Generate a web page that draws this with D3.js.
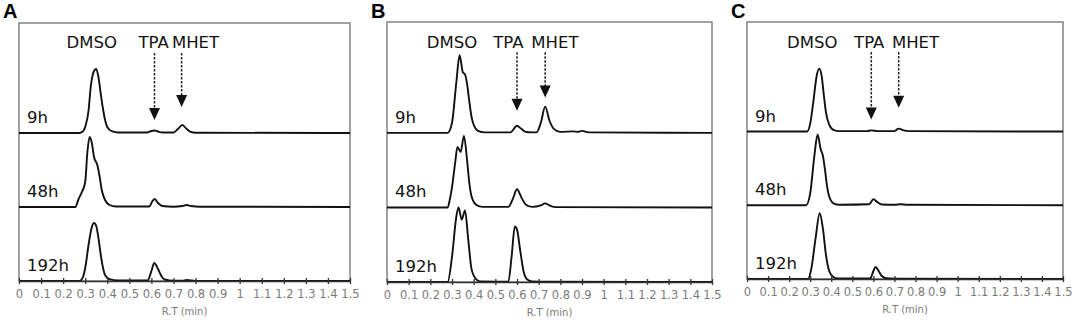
<!doctype html>
<html>
<head>
  <meta charset="utf-8">
  <script src="https://d3js.org/d3.v7.min.js"></script>
  <style>
    body { margin: 0; background: #fff; }
  </style>
</head>
<body>
<div id="viz"></div>
<script>
// retention time ticks
var rtTicks = d3.range(0, 1.51, 0.1).map(d => +d.toFixed(1));
var tickLabels = ["0","0.1","0.2","0.3","0.4","0.5","0.6","0.7","0.8","0.9","1","1.1","1.2","1.3","1.4","1.5"];

var panelNames = ["A", "B", "C"];
var timeLabels = ["9h", "48h", "192h"];
// stacking offsets (intensity units) for 9h, 48h, 192h
var stackOffset = [148, 74, 0];
var peakNames = ["DMSO", "TPA", "MHET"];

// [R.T, intensity]
var traceA9 = [[0,0],[0.27,0],[0.285,0.8],[0.30,6],[0.315,22],[0.325,46],[0.34,62],[0.35,64],[0.36,56],[0.37,40],[0.38,25],[0.39,13],[0.40,6],[0.42,1.8],[0.45,0.5],[0.58,0.5],[0.60,2],[0.615,2.5],[0.63,1.5],[0.65,0.5],[0.70,0.5],[0.72,4],[0.74,8],[0.76,4],[0.78,1],[0.80,0.3],[1.5,0]];
var traceA48 = [[0,0],[0.255,0],[0.27,8],[0.285,15],[0.30,25],[0.31,55],[0.32,70],[0.33,64],[0.34,50],[0.355,42],[0.365,31],[0.375,17],[0.39,7],[0.41,2],[0.44,0.5],[0.59,0.5],[0.605,6],[0.615,8],[0.63,4],[0.65,1],[0.70,0.3],[0.74,1],[0.76,2],[0.78,1],[0.82,0.3],[1.5,0]];
var traceA192 = [[0,0],[0.275,0],[0.29,4],[0.30,13],[0.315,36],[0.33,54],[0.34,58],[0.35,55],[0.36,43],[0.37,27],[0.38,14],[0.39,6],[0.41,1.8],[0.45,0.5],[0.583,0.5],[0.60,10],[0.613,18],[0.63,12],[0.645,5],[0.66,1.5],[0.70,0.3],[0.74,0.3],[0.76,1],[0.80,0],[1.5,0]];

var traceB9 = [[0,0],[0.28,0],[0.30,10],[0.32,50],[0.335,77],[0.35,60],[0.36,58],[0.37,48],[0.38,31],[0.39,16],[0.40,8],[0.42,2],[0.45,0.5],[0.57,0.5],[0.60,7],[0.62,4],[0.64,1],[0.67,0.5],[0.69,0.5],[0.71,10],[0.73,26],[0.75,12],[0.77,4],[0.80,1],[0.86,1.5],[0.88,1],[0.90,2],[0.93,0.5],[1.5,0]];
var traceB48 = [[0,0],[0.28,0],[0.29,8],[0.30,20],[0.315,45],[0.325,60],[0.34,55],[0.355,71],[0.37,46],[0.38,24],[0.39,11],[0.41,3],[0.44,0.5],[0.56,0.5],[0.58,8],[0.60,18],[0.62,10],[0.64,3],[0.67,0.5],[0.71,2],[0.73,4],[0.75,2],[0.78,0.3],[1.5,0]];
var traceB192 = [[0,0],[0.28,0],[0.30,25],[0.32,65],[0.33,74],[0.345,62],[0.36,71],[0.375,42],[0.39,13],[0.41,3],[0.43,0.5],[0.56,0.3],[0.575,25],[0.59,55],[0.60,52],[0.615,31],[0.63,11],[0.645,3],[0.67,0.5],[0.75,0.2],[1.5,0]];

var traceC9 = [[0,0],[0.285,0],[0.30,8],[0.315,30],[0.33,55],[0.343,63],[0.355,55],[0.365,36],[0.375,19],[0.39,7],[0.41,1.8],[0.44,0.5],[0.57,0.5],[0.59,1.2],[0.62,0.5],[0.70,0.5],[0.72,3],[0.74,1.5],[0.77,0.5],[1.5,0]];
var traceC48 = [[0,0],[0.28,0],[0.30,12],[0.32,50],[0.335,71],[0.35,56],[0.36,50],[0.37,36],[0.38,19],[0.39,9],[0.41,2],[0.44,0.5],[0.58,1],[0.60,6],[0.62,3],[0.64,0.8],[0.70,0.5],[0.73,1],[0.76,0.5],[1.5,0]];
var traceC192 = [[0,0],[0.29,0],[0.305,10],[0.325,40],[0.345,66],[0.36,51],[0.375,24],[0.39,8],[0.41,2],[0.43,0.5],[0.585,0.5],[0.60,8],[0.61,12],[0.625,8],[0.64,3],[0.66,0.8],[0.70,0.3],[1.5,0]];

var traces = [[traceA9, traceA48, traceA192], [traceB9, traceB48, traceB192], [traceC9, traceC48, traceC192]];

// label positions in R.T, arrows as [R.T, tip intensity]
var labelRT = [[0.33, 0.61, 0.80], [0.30, 0.56, 0.775], [0.31, 0.58, 0.80]];
var arrowTPA = [[0.614, 161], [0.60, 170], [0.59, 160]];
var arrowMHET = [[0.737, 174], [0.73, 183], [0.72, 172]];

// plot boxes for each panel (pixels)
var boxes = [
  {left: 19, right: 350, top: 23, bottom: 281},
  {left: 387, right: 712, top: 22, bottom: 282},
  {left: 747, right: 1063, top: 22, bottom: 279}
];

var svg = d3.select("#viz").append("svg")
  .attr("width", 1072)
  .attr("height", 322)
  .style("font-family", "'DejaVu Sans', Verdana, sans-serif");

var arrowTop = 228;

boxes.forEach(function(b, p) {
  var x = d3.scaleLinear().domain([0, 1.5]).range([b.left, b.right]);
  var y = d3.scaleLinear().domain([0, 258]).range([b.bottom, b.top]);
  var g = svg.append("g");

  // frame
  g.append("rect")
    .attr("x", b.left).attr("y", b.top)
    .attr("width", b.right - b.left).attr("height", b.bottom - b.top)
    .attr("fill", "none").attr("stroke", "#8a8a8a").attr("stroke-width", 1.6);

  // panel letter
  g.append("text")
    .attr("x", b.left - 16).attr("y", 18)
    .attr("font-family", "'Liberation Sans', Arial, sans-serif")
    .attr("font-weight", "bold").attr("font-size", 20)
    .text(panelNames[p]);

  // traces
  var line = d3.line()
    .x(d => x(d[0]))
    .curve(d3.curveMonotoneX);
  traces[p].forEach(function(tr, i) {
    g.append("path")
      .datum(tr)
      .attr("d", line.y(d => y(d[1] + stackOffset[i])))
      .attr("fill", "none").attr("stroke", "#111").attr("stroke-width", 1.9)
      .attr("stroke-linejoin", "round");
    g.append("text")
      .attr("x", b.left + 8).attr("y", y(stackOffset[i]) - 10)
      .attr("font-size", 16.5).attr("fill", "#111")
      .text(timeLabels[i]);
  });

  // x axis
  var axis = g.append("g")
    .attr("transform", "translate(0," + b.bottom + ")")
    .call(d3.axisBottom(x).tickValues(rtTicks).tickFormat((d, i) => tickLabels[i]).tickSize(3).tickSizeOuter(0));
  axis.select(".domain").attr("stroke", "#333").attr("stroke-width", 1.6);
  axis.selectAll(".tick line").attr("stroke", "#333").attr("y1", -3).attr("y2", 3).attr("stroke-width", 1.3);
  axis.selectAll(".tick text")
    .attr("fill", "#7a7a7a").attr("font-size", 11.5)
    .attr("font-family", "'DejaVu Sans', Verdana, sans-serif")
    .attr("y", 9);

  g.append("text")
    .attr("x", (b.left + b.right) / 2).attr("y", b.bottom + 34)
    .attr("text-anchor", "middle")
    .attr("font-size", 10).attr("fill", "#7a7a7a")
    .text("R.T (min)");

  // peak names
  peakNames.forEach(function(n, k) {
    g.append("text")
      .attr("x", x(labelRT[p][k])).attr("y", 48)
      .attr("text-anchor", "middle").attr("font-size", 16.5).attr("fill", "#111")
      .text(n);
  });

  // dashed arrows
  [arrowTPA[p], arrowMHET[p]].forEach(function(a) {
    var ax = x(a[0]), tip = y(a[1]), top = y(arrowTop);
    g.append("line")
      .attr("x1", ax).attr("x2", ax).attr("y1", top).attr("y2", tip - 10)
      .attr("stroke", "#222").attr("stroke-width", 1.5).attr("stroke-dasharray", "2.5,1.5");
    g.append("path")
      .attr("d", "M" + (ax - 5.5) + "," + (tip - 12) + "L" + (ax + 5.5) + "," + (tip - 12) + "L" + ax + "," + tip + "Z")
      .attr("fill", "#111");
  });
});
</script>
</body>
</html>
